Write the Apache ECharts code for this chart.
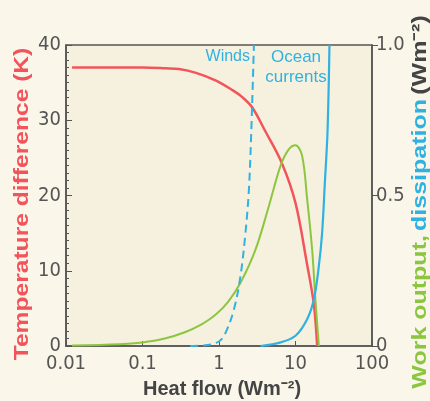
<!DOCTYPE html>
<html><head><meta charset="utf-8">
<script src="https://cdn.jsdelivr.net/npm/echarts@6/dist/echarts.min.js"></script>
<style>html,body{margin:0;padding:0;background:#faf6ea;}#c{width:430px;height:401px;}</style>
</head><body><div id="c"></div>
<script>
// Temperature difference (K) vs heat flow (Wm-2)
const tempData = [[0.012,37],[0.05,37],[0.1,37],[0.2,36.9],[0.3,36.8],[0.5,36.3],[0.9,35.3],[1.5,34],[2,33.1],[2.72,31.7],[4,28.6],[6.7,24.2],[10,19],[14.2,10.8],[17.4,5.5],[19.2,0]];
// Work output (Wm-2)
const workData = [[0.012,0.002],[0.05,0.006],[0.1,0.012],[0.19,0.024],[0.35,0.045],[0.6,0.073],[0.9,0.104],[1.3,0.145],[1.91,0.21],[3.0,0.32],[4.5,0.466],[6.4,0.6],[8.2,0.654],[10,0.667],[12.2,0.632],[14.2,0.488],[16.5,0.32],[18.2,0.155],[20.2,0]];
// Dissipation: winds (dashed)
const windsData = [[0.42,0],[0.7,0.003],[1.0,0.015],[1.2,0.04],[1.57,0.122],[1.91,0.233],[2.22,0.377],[2.46,0.52],[2.64,0.71],[2.86,1.0]];
// Dissipation: ocean currents (solid)
const oceanData = [[3.5,0],[6.4,0.012],[10,0.034],[14.2,0.089],[17.4,0.155],[20.2,0.266],[22.3,0.377],[24.2,0.543],[26.2,0.71],[27.8,1.0]];
const xTicks = [0.01,0.1,1,10,100];
const leftTicks = [0,10,20,30,40];
const rightTicks = ['0','0.5','1.0'];

const RED='#f2545b', GREEN='#8cc641', BLUE='#2fb2e2', GRAY='#555555';
const FONT="'Liberation Sans', Arial, sans-serif";
const NARROW="'Liberation Sans Narrow', 'DejaVu Sans Condensed', 'Liberation Sans', sans-serif";
const chart = echarts.init(document.getElementById('c'));
chart.setOption({
  backgroundColor:'#faf6ea',
  animation:false,
  grid:{left:66,right:58,top:45,bottom:55,show:true,backgroundColor:'#f6f1de',borderColor:GRAY,borderWidth:1.5},
  xAxis:{type:'log',logBase:10,min:0.01,max:100,
    axisLine:{lineStyle:{color:GRAY,width:1.5}},
    axisTick:{inside:true,length:5,lineStyle:{color:GRAY}},
    minorTick:{show:false},
    splitLine:{show:false},
    axisLabel:{color:GRAY,fontSize:20,fontFamily:NARROW,margin:8,
      formatter:v=>{const m=xTicks.find(t=>Math.abs(Math.log10(t)-Math.log10(v))<1e-6);return m===undefined?'':String(m);}}
  },
  yAxis:[
    {type:'value',min:0,max:40,interval:10,
     axisLine:{show:true,lineStyle:{color:GRAY,width:1.5}},
     axisTick:{show:true,inside:true,length:6,lineStyle:{color:GRAY}},
     minorTick:{show:true,splitNumber:10,length:3,lineStyle:{color:GRAY}},
     splitLine:{show:false},
     axisLabel:{color:GRAY,fontSize:20,fontFamily:NARROW,margin:5,formatter:v=>String(leftTicks[Math.round(v/10)])}
    },
    {type:'value',min:0,max:1,interval:0.5,position:'right',
     axisLine:{show:true,lineStyle:{color:GRAY,width:1.5}},
     axisTick:{show:true,inside:false,length:6,lineStyle:{color:GRAY}},
     splitLine:{show:false},
     axisLabel:{color:GRAY,fontSize:20,fontFamily:NARROW,margin:4,formatter:v=>rightTicks[Math.round(v*2)]}
    }
  ],
  series:[
    {type:'line',name:'Temperature difference',yAxisIndex:0,data:tempData,showSymbol:false,smooth:0.35,lineStyle:{color:RED,width:2.5}},
    {type:'line',name:'Work output',yAxisIndex:1,data:workData,showSymbol:false,smooth:0.35,lineStyle:{color:GREEN,width:2}},
    {type:'line',name:'Winds',yAxisIndex:1,data:windsData,showSymbol:false,smooth:0.35,lineStyle:{color:BLUE,width:2,type:[8,5]}},
    {type:'line',name:'Ocean currents',yAxisIndex:1,data:oceanData,showSymbol:false,smooth:0.35,lineStyle:{color:BLUE,width:2.2}}
  ],
  graphic:[
    {type:'text',x:250,y:57,style:{text:'Winds',fill:BLUE,font:'16px '+FONT,textAlign:'right',textVerticalAlign:'middle'}},
    {type:'text',x:296,y:57,style:{text:'Ocean',fill:BLUE,font:'17px '+FONT,textAlign:'center',textVerticalAlign:'middle'}},
    {type:'text',x:296,y:77,style:{text:'currents',fill:BLUE,font:'17px '+FONT,textAlign:'center',textVerticalAlign:'middle'}},
    {type:'text',x:222,y:389,style:{text:'Heat flow (Wm⁻²)',fill:'#444',font:'bold 20px '+FONT,textAlign:'center',textVerticalAlign:'middle'}},
    {type:'text',x:22,y:204,rotation:Math.PI/2,scaleX:1.23,style:{text:'Temperature difference (K)',fill:RED,font:'bold 20px '+FONT,textAlign:'center',textVerticalAlign:'middle'}},
    {type:'text',x:420,y:202,rotation:Math.PI/2,scaleX:1.25,style:{
      text:'{g|Work output,} {b|dissipation} {k|(Wm⁻²)}',textAlign:'center',textVerticalAlign:'middle',
      rich:{g:{fill:GREEN,font:'bold 20px '+FONT},b:{fill:BLUE,font:'bold 20px '+FONT},k:{fill:'#444',font:'bold 20px '+FONT}}}}
  ]
});
</script></body></html>
